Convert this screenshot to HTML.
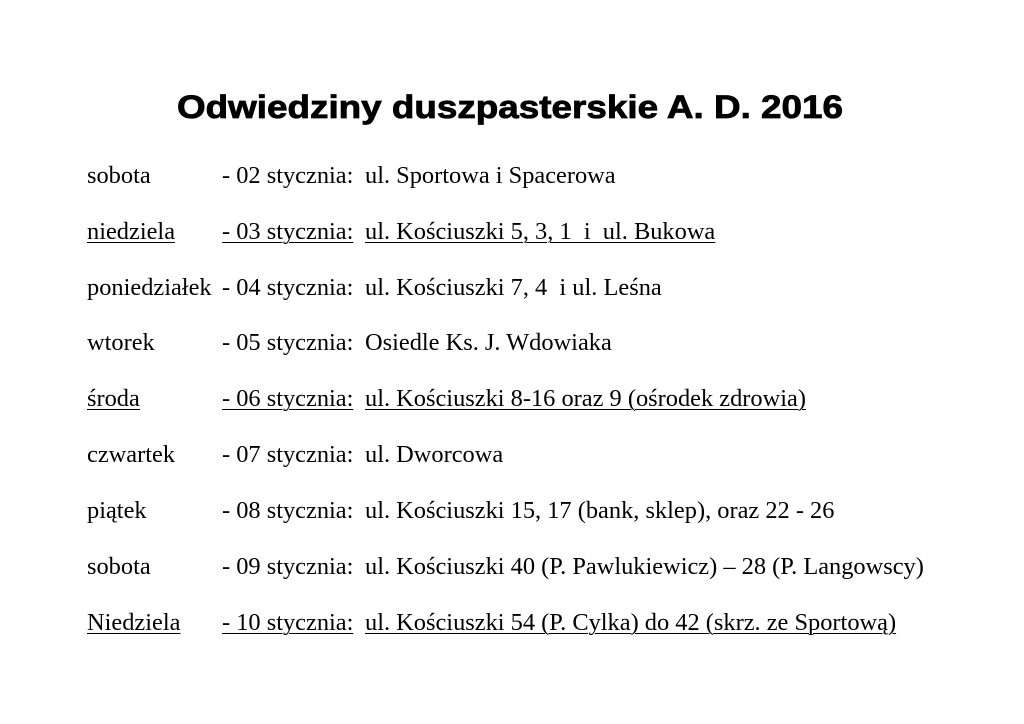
<!DOCTYPE html>
<html><head><meta charset="utf-8"><style>
html,body{margin:0;padding:0;background:#fff;}
body{width:1024px;height:724px;position:relative;overflow:hidden;}
.r{position:absolute;left:0;height:24px;line-height:24px;font-family:"Liberation Serif",serif;font-size:24.4px;color:#000;white-space:pre;}
.r span{position:absolute;top:0;}
.a{left:87px}.b{left:222px}.c{left:365px}
.u span{text-decoration:underline;text-decoration-thickness:1px;text-underline-offset:3px;}
</style></head><body>
<svg style="position:absolute;left:0;top:0" width="1024" height="140">
<text x="177" y="118" textLength="666" lengthAdjust="spacingAndGlyphs" font-family="Liberation Sans, sans-serif" font-weight="bold" font-size="32" stroke="#000" stroke-width="0.8">Odwiedziny duszpasterskie A. D. 2016</text>
</svg>
<div class="r" style="top:164px"><span class="a">sobota</span><span class="b">- 02 stycznia:</span><span class="c">ul. Sportowa i Spacerowa</span></div>
<div class="r u" style="top:220px"><span class="a">niedziela</span><span class="b">- 03 stycznia:</span><span class="c">ul. Kościuszki 5, 3, 1  i  ul. Bukowa</span></div>
<div class="r" style="top:276px"><span class="a">poniedziałek</span><span class="b">- 04 stycznia:</span><span class="c">ul. Kościuszki 7, 4  i ul. Leśna</span></div>
<div class="r" style="top:331px"><span class="a">wtorek</span><span class="b">- 05 stycznia:</span><span class="c">Osiedle Ks. J. Wdowiaka</span></div>
<div class="r u" style="top:387px"><span class="a">środa</span><span class="b">- 06 stycznia:</span><span class="c">ul. Kościuszki 8-16 oraz 9 (ośrodek zdrowia)</span></div>
<div class="r" style="top:443px"><span class="a">czwartek</span><span class="b">- 07 stycznia:</span><span class="c">ul. Dworcowa</span></div>
<div class="r" style="top:499px"><span class="a">piątek</span><span class="b">- 08 stycznia:</span><span class="c">ul. Kościuszki 15, 17 (bank, sklep), oraz 22 - 26</span></div>
<div class="r" style="top:555px"><span class="a">sobota</span><span class="b">- 09 stycznia:</span><span class="c">ul. Kościuszki 40 (P. Pawlukiewicz) – 28 (P. Langowscy)</span></div>
<div class="r u" style="top:611px"><span class="a">Niedziela</span><span class="b">- 10 stycznia:</span><span class="c">ul. Kościuszki 54 (P. Cylka) do 42 (skrz. ze Sportową)</span></div>
</body></html>
